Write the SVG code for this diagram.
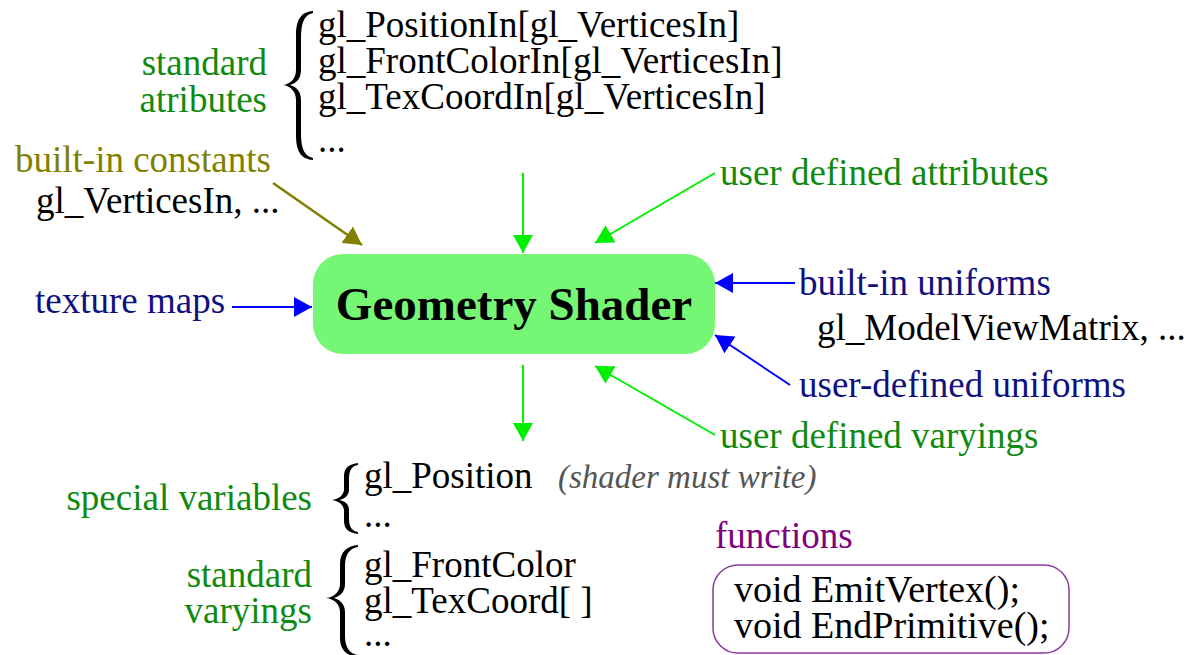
<svg xmlns="http://www.w3.org/2000/svg" width="1194" height="655" viewBox="0 0 1194 655">
<defs>
<style>
text{font-family:"Liberation Serif","Times New Roman",serif;font-size:37px;fill:#000}
.g{fill:#0f8a0f}.n{fill:#10107f}.o{fill:#7f7f00}.p{fill:#800080}
.it{font-style:italic;font-size:33px;fill:#555}
.e{text-anchor:end}
.f{font-size:38px}
.brace{fill:#000}
.lg{stroke:#00f000;stroke-width:2;fill:none;marker-end:url(#ag)}
.lb{stroke:#0000ff;stroke-width:2;fill:none;marker-end:url(#ab)}
.lo{stroke:#7f7f00;stroke-width:2.5;fill:none;marker-end:url(#ao)}
</style>
<marker id="ag" markerUnits="userSpaceOnUse" markerWidth="18" markerHeight="20" refX="18" refY="10" orient="auto"><path d="M0,0 L18,10 L0,20 z" fill="#00f000"/></marker>
<marker id="ab" markerUnits="userSpaceOnUse" markerWidth="18" markerHeight="20" refX="18" refY="10" orient="auto"><path d="M0,0 L18,10 L0,20 z" fill="#0000ff"/></marker>
<marker id="ao" markerUnits="userSpaceOnUse" markerWidth="18" markerHeight="20" refX="18" refY="10" orient="auto"><path d="M0,0 L18,10 L0,20 z" fill="#7f7f00"/></marker>
</defs>
<rect width="1194" height="655" fill="#fff"/>

<g id="connectors">
<line class="lo" x1="273" y1="183" x2="362" y2="245"/>
<line class="lg" x1="523" y1="173" x2="523" y2="253"/>
<line class="lg" x1="715" y1="173" x2="595" y2="243"/>
<line class="lb" x1="232" y1="307" x2="312" y2="307"/>
<line class="lb" x1="795" y1="283" x2="715" y2="283"/>
<line class="lb" x1="790" y1="385" x2="715" y2="335"/>
<line class="lg" x1="523" y1="365" x2="523" y2="441"/>
<line class="lg" x1="715" y1="435" x2="595" y2="366"/>
</g>

<g id="geometry-shader">
<rect x="313" y="254" width="402" height="100" rx="30" fill="#75f675"/>
<text x="514" y="320" text-anchor="middle" style="font-weight:bold;font-size:47px">Geometry Shader</text>
</g>

<g id="standard-attributes">
<text class="g e" x="267" y="75">standard</text>
<text class="g e" x="267" y="112">atributes</text>
<path class="brace" d="M313,11 C302,12 296,18 296,36 L296,70 C296,78 291,84 283,85 C291,86 296,92 296,100 L296,135 C296,153 302,159 313,160 L313,158 C305,156 301,150 301,133 L301,100 C301,92 297,87 290,85 C297,83 301,78 301,70 L301,38 C301,21 305,15 313,13 Z"/>
<text x="318" y="37">gl_PositionIn[gl_VerticesIn]</text>
<text x="318" y="73">gl_FrontColorIn[gl_VerticesIn]</text>
<text x="318" y="109">gl_TexCoordIn[gl_VerticesIn]</text>
<text x="318" y="152">...</text>
</g>

<g id="built-in-constants">
<text class="o" x="15" y="172">built-in constants</text>
<text x="36" y="213">gl_VerticesIn, ...</text>
</g>

<g id="user-defined-attributes">
<text class="g" x="720" y="185">user defined attributes</text>
</g>

<g id="texture-maps">
<text class="n" x="35" y="313">texture maps</text>
</g>

<g id="built-in-uniforms">
<text class="n" x="799" y="295">built-in uniforms</text>
<text x="817" y="340">gl_ModelViewMatrix, ...</text>
</g>

<g id="user-defined-uniforms">
<text class="n" x="799" y="397">user-defined uniforms</text>
</g>

<g id="user-defined-varyings">
<text class="g" x="720" y="448">user defined varyings</text>
</g>

<g id="special-variables">
<text class="g e" x="312" y="510">special variables</text>
<path class="brace" d="M358,463 C350,464 344,467 344,476 L344,489 C344,495 339,499 332,500 C339,501 344,505 344,511 L344,521 C344,530 350,533 358,534 L358,532 C352,531 349,527 349,519 L349,510 C349,504 345,501 339,500 C345,499 349,495 349,490 L349,478 C349,470 352,466 358,465 Z"/>
<text x="364" y="488">gl_Position</text>
<text class="it" x="558" y="488">(shader must write)</text>
<text x="364" y="527">...</text>
</g>

<g id="standard-varyings">
<text class="g e" x="312" y="587">standard</text>
<text class="g e" x="312" y="623">varyings</text>
<path class="brace" d="M358,545 C348,546 340,551 340,564 L340,584 C340,591 335,597 326,598 C335,599 340,605 340,612 L340,638 C340,651 348,656 358,657 L358,655 C351,654 345,649 345,636 L345,612 C345,605 341,600 334,598 C341,596 345,591 345,584 L345,566 C345,553 351,548 358,547 Z"/>
<text x="364" y="577">gl_FrontColor</text>
<text x="364" y="613">gl_TexCoord[ ]</text>
<text x="364" y="646">...</text>
</g>

<g id="functions">
<text class="p" x="715" y="548">functions</text>
<rect x="713" y="565" width="356" height="88" rx="25" fill="none" stroke="#8a3a9a" stroke-width="1.5"/>
<text class="f" x="734" y="602">void EmitVertex();</text>
<text class="f" x="734" y="638">void EndPrimitive();</text>
</g>
</svg>
